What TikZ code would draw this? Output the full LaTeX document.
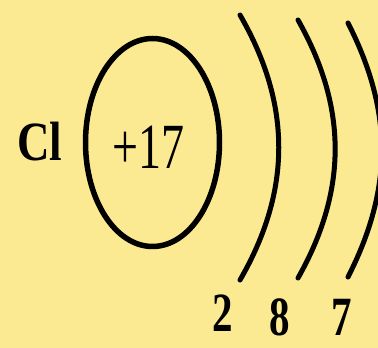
\documentclass[tikz,border=0pt]{standalone}
\usepackage{fontspec}
\setmainfont{Liberation Serif}
\usepackage{tikz}
\usetikzlibrary{calc,shapes.geometric}
\definecolor{paper}{RGB}{252,234,146}
\tikzset{
	shell/.style={line width=5pt,line cap=round},
	nucleus/.style={draw,ellipse,line width=5.5pt,minimum width=134pt,minimum height=208pt,inner sep=0pt},
	count/.style={inner sep=0pt,font=\fontsize{41}{41}\selectfont\bfseries}
}
\begin{document}
\begin{tikzpicture}[x=1pt,y=1pt]
			\fill[paper] (0,0) rectangle (378,348);
			\useasboundingbox (0,0) rectangle (378,348);
			% the nucleus with its charge
			\node[nucleus] (nuc) at (152.5,205.5) {};
			\node[inner sep=0pt] (charge) at (148.5,200.5) {\scalebox{1}[1.4]{\fontsize{46}{46}\selectfont +17}};
			\node[inner sep=0pt] (sym) at (40,206.5) {\scalebox{1}[1.23]{\fontsize{45}{45}\selectfont\bfseries Cl}};
			% the three electron shells
			\coordinate (s1t) at (240,333);
			\coordinate (s1b) at (240,68);
			\coordinate (s2t) at (298,328);
			\coordinate (s2b) at (298,70);
			\coordinate (s3t) at (348,325);
			\coordinate (s3b) at (348,71);
			\draw[shell] (s1t) to[bend left=30] (s1b);
			\draw[shell] (s2t) to[bend left=29.5] (s2b);
			\draw[shell] (s3t) to[bend left=27] (s3b);
			% electrons in each shell
			\node[count] (n1) at (223,35) {\scalebox{1}[1.35]{2}};
			\node[count] (n2) at (280,31) {\scalebox{1}[1.35]{8}};
			\node[count] (n3) at (342,31) {\scalebox{1}[1.35]{7}};
		\end{tikzpicture}
\end{document}
